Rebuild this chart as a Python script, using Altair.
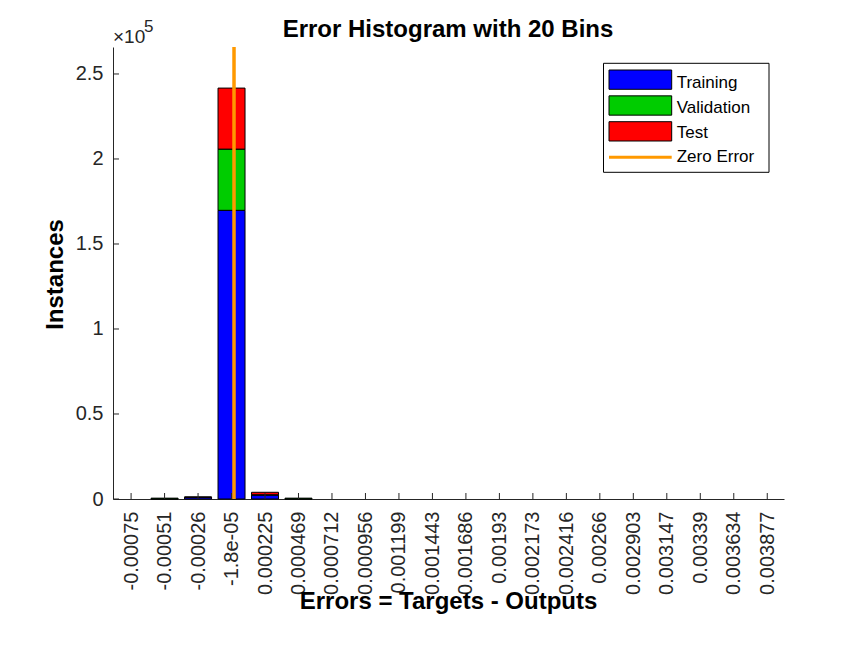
import json
import numpy as np
import pandas as pd
import altair as alt

# ---------------- data ----------------
bin_labels = ["-0.00075", "-0.00051", "-0.00026", "-1.8e-05", "0.000225", "0.000469",
              "0.000712", "0.000956", "0.001199", "0.001443", "0.001686", "0.00193",
              "0.002173", "0.002416", "0.00266", "0.002903", "0.003147", "0.00339",
              "0.003634", "0.003877"]
training   = [0, 100, 900, 169800, 2300, 100] + [0] * 14
validation = [0, 400, 150, 36000, 200, 400] + [0] * 14
test       = [0, 0, 150, 35900, 1450, 0] + [0] * 14
series_names = ["Training", "Validation", "Test"]
series_colors = ["#0000FF", "#00CC00", "#FF0000"]
zero_name = "Zero Error"
zero_color = "#FF9900"
y_tick_values = [0, 50000, 100000, 150000, 200000, 250000]
title_text = "Error Histogram with 20 Bins"
x_title = "Errors = Targets - Outputs"
y_title = "Instances"

# ---------------- derived tables ----------------
idx = list(range(len(bin_labels)))
centers = [float(s) for s in bin_labels]
zero_idx = float(np.interp(0.0, centers, idx))

rows = []
for k, (name, vals) in enumerate(zip(series_names, [training, validation, test])):
    for i, v in enumerate(vals):
        if v > 0:
            rows.append({"idx": i, "series": name, "count": v, "ord": k})
bars_df = pd.DataFrame(rows)
totals = [a + b + c for a, b, c in zip(training, validation, test)]
ymax = 1.1 * max(totals)

W, H = 671, 452
FONT = "Liberation Sans"
AX = "#262626"

x_scale = alt.Scale(domain=[-0.54, 19.5], nice=False, zero=False, padding=0)
y_scale = alt.Scale(domain=[0, ymax], nice=False, padding=0)

label_expr = json.dumps(bin_labels) + "[datum.value]"

x_axis = alt.Axis(values=idx, labelExpr=label_expr, labelAngle=-90,
                  labelAlign="right", labelBaseline="middle",
                  labelFontSize=20, labelColor=AX, labelPadding=12,
                  ticks=False, tickSize=0, grid=False, domainColor=AX,
                  labelOverlap=False, labelFont=FONT,
                  title=x_title, titleFont=FONT, titleFontSize=24,
                  titleFontWeight="bold", titleColor="black",
                  titleX=335, titleY=109, titleBaseline="alphabetic",
                  titleAlign="center")
y_axis = alt.Axis(values=y_tick_values, labelExpr="datum.value/100000",
                  labelFontSize=20, labelColor=AX, labelPadding=10,
                  ticks=False, tickSize=0, grid=False, domainColor=AX,
                  labelFont=FONT,
                  title=y_title, titleFont=FONT, titleFontSize=24,
                  titleFontWeight="bold", titleColor="black",
                  titleX=-58, titleY=227, titleAngle=-90,
                  titleAlign="center", titleBaseline="middle")

bars = alt.Chart(bars_df).mark_bar(size=27, stroke="black", strokeWidth=1).encode(
    x=alt.X("idx:Q", scale=x_scale, axis=x_axis),
    y=alt.Y("count:Q", scale=y_scale, stack="zero", axis=y_axis),
    color=alt.Color("series:N", scale=alt.Scale(domain=series_names, range=series_colors),
                    legend=None),
    order=alt.Order("ord:Q"),
)

xticks = alt.Chart(pd.DataFrame({"idx": idx})).mark_rule(color=AX, strokeWidth=1).encode(
    x=alt.X("idx:Q", scale=x_scale, axis=x_axis),
    y=alt.value(H), y2=alt.value(H - 6),
)
yticks = alt.Chart(pd.DataFrame({"count": y_tick_values})).mark_rule(color=AX, strokeWidth=1).encode(
    y=alt.Y("count:Q", scale=y_scale, axis=y_axis),
    x=alt.value(0), x2=alt.value(6),
)

zero_line = alt.Chart(pd.DataFrame({"idx": [zero_idx]})).mark_rule(
    color=zero_color, strokeWidth=3.5).encode(
    x=alt.X("idx:Q", scale=x_scale, axis=x_axis),
    y=alt.value(0), y2=alt.value(H),
)

title = alt.Chart(pd.DataFrame({"t": [title_text]})).mark_text(
    font=FONT, fontSize=24, fontWeight="bold", color="black",
    align="center", baseline="alphabetic").encode(
    text="t:N", x=alt.value(335), y=alt.value(-10))

exp_base = alt.Chart(pd.DataFrame({"t": ["\u00d710"]})).mark_text(
    font=FONT, fontSize=19, color=AX, align="left", baseline="alphabetic").encode(
    text="t:N", x=alt.value(0), y=alt.value(-4.5))
exp_sup = alt.Chart(pd.DataFrame({"t": ["5"]})).mark_text(
    font=FONT, fontSize=17, color=AX, align="left", baseline="alphabetic").encode(
    text="t:N", x=alt.value(31), y=alt.value(-15))

# ---------------- legend ----------------
one = pd.DataFrame({"a": [0]})
leg_layers = [
    alt.Chart(one).mark_rect(fill="white", stroke="black", strokeWidth=1).encode(
        x=alt.value(490.5), x2=alt.value(656), y=alt.value(16.3), y2=alt.value(125.3))
]
sw_x0, sw_x1, sw_y0, sw_h, pitch = 496, 558.7, 23, 19.3, 25.85
txt_x, txt_y0, txt_pitch = 563.7, 41.3, 24.7
for i, (name, col) in enumerate(zip(series_names, series_colors)):
    leg_layers.append(
        alt.Chart(one).mark_rect(fill=col, stroke="black", strokeWidth=1).encode(
            x=alt.value(sw_x0), x2=alt.value(sw_x1),
            y=alt.value(sw_y0 + i * pitch), y2=alt.value(sw_y0 + i * pitch + sw_h)))
    leg_layers.append(
        alt.Chart(pd.DataFrame({"t": [name]})).mark_text(
            font=FONT, fontSize=17, color="black", align="left", baseline="alphabetic").encode(
            text="t:N", x=alt.value(txt_x), y=alt.value(txt_y0 + i * txt_pitch)))
leg_layers.append(
    alt.Chart(one).mark_rule(color=zero_color, strokeWidth=3).encode(
        x=alt.value(sw_x0), x2=alt.value(sw_x1), y=alt.value(110.3)))
leg_layers.append(
    alt.Chart(pd.DataFrame({"t": [zero_name]})).mark_text(
        font=FONT, fontSize=17, color="black", align="left", baseline="alphabetic").encode(
        text="t:N", x=alt.value(txt_x), y=alt.value(txt_y0 + 3 * txt_pitch)))

chart = alt.layer(bars, xticks, yticks, zero_line, title, exp_base, exp_sup, *leg_layers).properties(
    width=W, height=H,
    autosize=alt.AutoSizeParams(type="none"),
    padding={"left": 105, "top": 39, "right": 70, "bottom": 140},
    background="white",
).configure_view(stroke=None)

chart.save("out.html", embed_options={"renderer": "svg", "actions": False})
